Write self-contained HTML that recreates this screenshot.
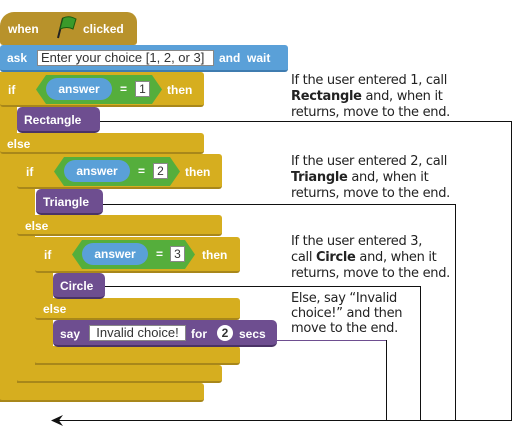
<!DOCTYPE html>
<html><head><meta charset="utf-8"><style>
body{margin:0;width:513px;height:428px;background:#fff;position:relative;overflow:hidden;font-family:"Liberation Sans",sans-serif}
.b{position:absolute;box-sizing:border-box}
.y{background:#d6ae1f;border-bottom:2px solid #a8871a;border-radius:3px}
.t{position:absolute;color:#fff;font-weight:bold;font-size:12px;white-space:nowrap}
.hex{position:absolute;background:#55ae3c;clip-path:polygon(0 50%,10px 0,calc(100% - 10px) 0,100% 50%,calc(100% - 10px) 100%,10px 100%)}
.pill{position:absolute;background:#5aa0d8;border-radius:11px;color:#fff;font-weight:bold;font-size:12px;text-align:center;line-height:22px}
.box{position:absolute;background:#fff;color:#333;font-size:12px;text-align:center;border:1px solid #888;box-sizing:border-box;white-space:nowrap;overflow:hidden}
.p{background:#6e4e90;border-radius:5px;border-bottom:2px solid #4a3366}
.n{position:absolute;font-size:13px;line-height:16px;color:#222;font-family:"DejaVu Sans","Liberation Sans",sans-serif;letter-spacing:-0.3px}
.l{position:absolute;background:#111}
</style></head><body>
<div class="b" style="left:0;top:12px;width:137px;height:33px;background:#b8922b;border-radius:14px 10px 3px 3px"></div>
<div class="t" style="left:8px;top:22px">when</div>
<svg style="position:absolute;left:54px;top:15px" width="24" height="24"><path d="M4 23 L9 3" stroke="#222" stroke-width="2"/><path d="M9 3 Q15 0 22 4 L19 14 Q13 11 6 14Z" fill="#3a9a2a" stroke="#1a5a10"/></svg>
<div class="t" style="left:83px;top:22px">clicked</div>
<div class="b" style="left:0;top:45px;width:288px;height:27px;background:#5aa0d8;border-radius:3px;border-bottom:2px solid #3f7cb0"></div>
<div class="t" style="left:7px;top:51px">ask</div>
<div class="box" style="left:37px;top:50px;width:177px;height:16px;line-height:14px;text-align:left;padding-left:3px;font-size:13px">Enter your choice [1, 2, or 3]</div>
<div class="t" style="left:219px;top:51px">and&nbsp; wait</div>
<div class="b y" style="left:0;top:72px;width:17px;height:330px;border-radius:0"></div>
<div class="b y" style="left:0;top:72px;width:204px;height:35px"></div>
<div class="b y" style="left:0;top:133px;width:204px;height:21px"></div>
<div class="b y" style="left:0;top:383px;width:204px;height:19px"></div>
<div class="t" style="left:8px;top:83px">if</div>
<div class="hex" style="left:36px;top:75px;width:126px;height:29px"></div>
<div class="pill" style="left:46px;top:78px;width:66px;height:22px">answer</div>
<div class="t" style="left:120px;top:82px">=</div>
<div class="box" style="left:135px;top:81px;width:15px;height:16px;line-height:14px">1</div>
<div class="t" style="left:167px;top:83px">then</div>
<div class="b p" style="left:17px;top:107px;width:83px;height:26px"></div>
<div class="t" style="left:24px;top:113px">Rectangle</div>
<div class="t" style="left:7px;top:137px">else</div>
<div class="b y" style="left:17px;top:154px;width:18px;height:229px;border-radius:0"></div>
<div class="b y" style="left:17px;top:154px;width:205px;height:35px"></div>
<div class="b y" style="left:17px;top:215px;width:205px;height:21px"></div>
<div class="b y" style="left:17px;top:365px;width:205px;height:18px"></div>
<div class="t" style="left:26px;top:165px">if</div>
<div class="hex" style="left:54px;top:157px;width:126px;height:29px"></div>
<div class="pill" style="left:64px;top:160px;width:66px;height:22px">answer</div>
<div class="t" style="left:138px;top:164px">=</div>
<div class="box" style="left:153px;top:163px;width:15px;height:16px;line-height:14px">2</div>
<div class="t" style="left:185px;top:165px">then</div>
<div class="b p" style="left:36px;top:189px;width:67px;height:26px"></div>
<div class="t" style="left:43px;top:195px">Triangle</div>
<div class="t" style="left:25px;top:219px">else</div>
<div class="b y" style="left:35px;top:237px;width:18px;height:128px;border-radius:0"></div>
<div class="b y" style="left:35px;top:237px;width:205px;height:36px"></div>
<div class="b y" style="left:35px;top:298px;width:205px;height:22px"></div>
<div class="b y" style="left:35px;top:346px;width:205px;height:19px"></div>
<div class="t" style="left:44px;top:248px">if</div>
<div class="hex" style="left:72px;top:240px;width:123px;height:29px"></div>
<div class="pill" style="left:82px;top:243px;width:66px;height:22px">answer</div>
<div class="t" style="left:156px;top:247px">=</div>
<div class="box" style="left:170px;top:246px;width:15px;height:16px;line-height:14px">3</div>
<div class="t" style="left:202px;top:248px">then</div>
<div class="b p" style="left:53px;top:273px;width:52px;height:26px"></div>
<div class="t" style="left:60px;top:279px">Circle</div>
<div class="t" style="left:43px;top:302px">else</div>
<div class="b p" style="left:53px;top:320px;width:224px;height:27px"></div>
<div class="t" style="left:60px;top:327px">say</div>
<div class="box" style="left:89px;top:325px;width:97px;height:16px;line-height:14px;font-size:13px">Invalid choice!</div>
<div class="t" style="left:191px;top:327px">for</div>
<div style="position:absolute;left:217px;top:325px;width:16px;height:16px;border-radius:8px;background:#fff;color:#333;font-weight:bold;font-size:12px;text-align:center;line-height:16px">2</div>
<div class="t" style="left:239px;top:327px">secs</div>
<div class="l" style="left:100px;top:121px;width:412px;height:1px"></div>
<div class="l" style="left:511px;top:121px;width:1px;height:300px"></div>
<div class="l" style="left:103px;top:204px;width:352px;height:1px"></div>
<div class="l" style="left:455px;top:204px;width:1px;height:217px"></div>
<div class="l" style="left:105px;top:286px;width:315px;height:1px"></div>
<div class="l" style="left:420px;top:286px;width:1px;height:135px"></div>
<div class="l" style="left:277px;top:340px;width:109px;height:1px;background:#6e4e90"></div>
<div class="l" style="left:386px;top:340px;width:1px;height:81px"></div>
<div class="l" style="left:58px;top:420px;width:454px;height:1px"></div>
<svg style="position:absolute;left:50px;top:414px" width="14" height="13"><path d="M1 6.5 L13 1 L9 6.5 L13 12Z" fill="#111"/></svg>
<div class="n" style="left:291px;top:73px">If the user entered 1, call<br><b>Rectangle</b> and, when it<br>returns, move to the end.</div>
<div class="n" style="left:291px;top:154px">If the user entered 2, call<br><b>Triangle</b> and, when it<br>returns, move to the end.</div>
<div class="n" style="left:291px;top:234px">If the user entered 3,<br>call <b>Circle</b> and, when it<br>returns, move to the end.</div>
<div class="n" style="left:291px;top:291px;line-height:15px">Else, say “Invalid<br>choice!” and then<br>move to the end.</div>
</body></html>
